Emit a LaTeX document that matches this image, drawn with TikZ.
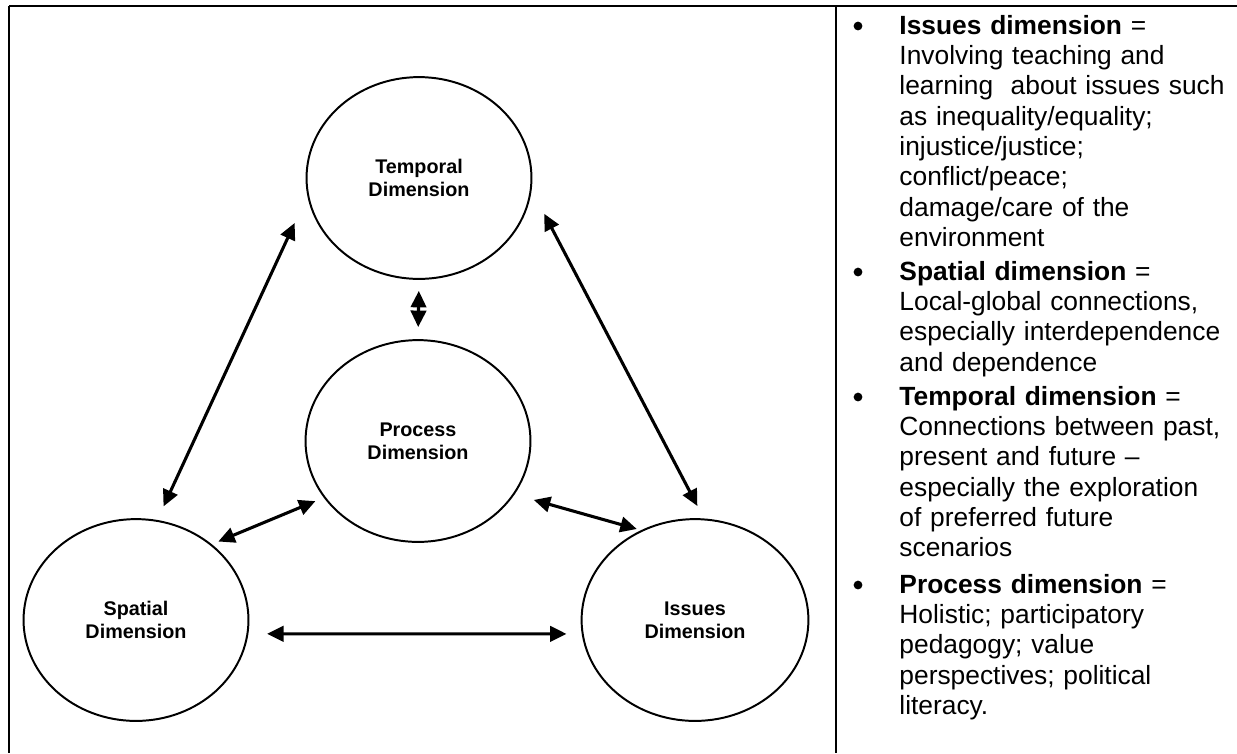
\documentclass[tikz,border=0pt]{standalone}
\usepackage{fontspec}
\setmainfont{Liberation Sans}
\usetikzlibrary{shapes.geometric,arrows.meta}

\begin{document}
\begin{tikzpicture}[x=0.016cm, y=-0.016cm,
    dimension/.style = {ellipse, draw, line width=0.9pt, minimum width=3.6cm,
                        minimum height=3.23cm, align=center,
                        font=\fontsize{9}{10.5}\selectfont\bfseries},
    link/.style = {line width=1.4pt, {Triangle[length=7.5pt,width=7pt]}-{Triangle[length=7.5pt,width=7pt]}},
    note/.style = {anchor=base west, inner sep=0pt, text width=155pt, align=left,
                   font=\fontsize{12}{13.84}\selectfont},
    dot/.style = {circle, fill, inner sep=0pt, minimum size=4pt}]
    \useasboundingbox (0,0) rectangle (1237,753);

    % table lines
    \draw[line width=1.1pt] (9,6) -- (1237,6);
    \draw[line width=1.1pt] (9,6) -- (9,753);
    \draw[line width=1.2pt] (836,6) -- (836,753);

    % the four dimensions
    \node[dimension] (temporal) at (419,178) {Temporal\\Dimension};
    \node[dimension] (process)  at (418,441) {Process\\Dimension};
    \node[dimension] (spatial)  at (136,620) {Spatial\\Dimension};
    \node[dimension, minimum width=3.63cm] (issues) at (695,620) {Issues\\Dimension};

    \draw[link, shorten <=13.7pt, shorten >=6.8pt] (temporal.189) -- (spatial.78);
    \draw[link, shorten <=12.3pt, shorten >=6.4pt] (temporal.354) -- (issues.85);
    \draw[link, shorten <=5pt,    shorten >=5.5pt] (temporal.south) -- (process.north);
    \draw[link, shorten <=4.1pt,  shorten >=3.2pt] (process.211) -- (spatial.45);
    \draw[link, shorten <=9.1pt,  shorten >=2pt]   (process.331) -- (issues.121);
    \draw[link, shorten <=8.5pt,  shorten >=6.9pt] (spatial.353) -- (issues.187);

    % notes
    \node[dot] (issuesdot)   at (858,26)  {};
    \node[dot] (spatialdot)  at (858,272) {};
    \node[dot] (temporaldot) at (858,397) {};
    \node[dot] (processdot)  at (858,585) {};

    \node[note] (issuesnote) at (899,34) {\textbf{Issues dimension} =\\
        Involving teaching and\\ learning\ \ about issues such\\ as inequality/equality;\\
        injustice/justice;\\ conflict/peace;\\ damage/care of the\\ environment};
    \node[note] (spatialnote) at (899,280) {\textbf{Spatial dimension} =\\
        Local-global connections,\\ especially interdependence\\ and dependence};
    \node[note] (temporalnote) at (899,405) {\textbf{Temporal dimension} =\\
        Connections between past,\\ present and future --\\ especially the exploration\\
        of preferred future\\ scenarios};
    \node[note] (processnote) at (899,593) {\textbf{Process dimension} =\\
        Holistic; participatory\\ pedagogy; value\\ perspectives; political\\ literacy.};
\end{tikzpicture}
\end{document}
